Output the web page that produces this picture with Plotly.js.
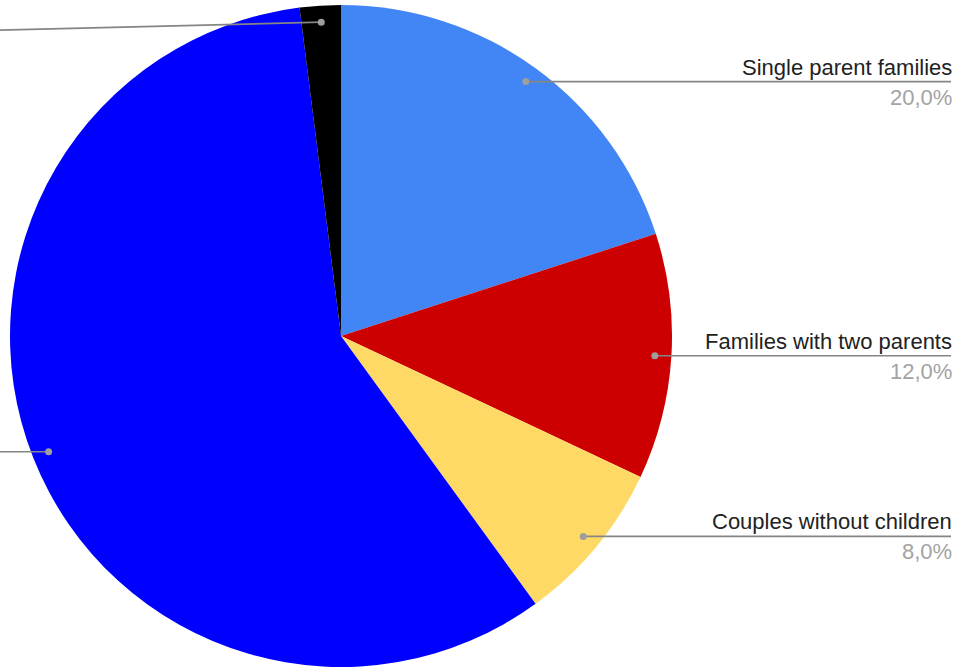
<!DOCTYPE html>
<html>
<head>
<meta charset="utf-8">
<script src="https://cdn.plot.ly/plotly-3.0.1.min.js"></script>
<style>html,body{margin:0;padding:0;background:#fff;}#chart{width:971px;height:668px;}</style>
</head>
<body>
<div id="chart"></div>
<script>
// Data
const categories = ["Single parent families", "Families with two parents", "Couples without children", "", ""];
const values = [20, 12, 8, 58, 2];
const colors = ["#4285f4", "#cc0000", "#ffd966", "#0000ff", "#000000"];

const W = 971, H = 668;
const cx = 341, cy = 336, R = 331;
const total = values.reduce((a, b) => a + b, 0);

const trace = {
  type: "pie",
  values: values,
  labels: categories.map((c, i) => c || ("slice" + i)),
  marker: { colors: colors, line: { width: 0 } },
  sort: false,
  direction: "clockwise",
  rotation: 0,
  textinfo: "none",
  hoverinfo: "none",
  showlegend: false,
  domain: { x: [(cx - R) / W, (cx + R) / W], y: [1 - (cy + R) / H, 1 - (cy - R) / H] }
};

const shapes = [];
const annotations = [];
const px = x => x / W;
const py = y => 1 - y / H;
let cum = 0;
values.forEach((v, i) => {
  const mid = (cum + v / 2) / total * 2 * Math.PI;
  cum += v;
  const dx = cx + 0.95 * R * Math.sin(mid);
  const dy = cy - 0.95 * R * Math.cos(mid);
  const right = Math.sin(mid) > 0;
  let ex, ey;
  if (right) { ex = 951; ey = dy; }
  else if (i === 4) { ex = 0; ey = dy + 8; }
  else { ex = 0; ey = dy; }
  shapes.push({ type: "line", xref: "paper", yref: "paper", x0: px(dx), y0: py(dy), x1: px(ex), y1: py(ey),
    line: { color: "#858585", width: 1.7 } });
  shapes.push({ type: "circle", xref: "paper", yref: "paper", xsizemode: "pixel", ysizemode: "pixel",
    xanchor: px(dx), yanchor: py(dy), x0: -3.5, x1: 3.5, y0: -3.5, y1: 3.5,
    fillcolor: "#9e9e9e", line: { width: 0 } });
  if (right && categories[i]) {
    annotations.push({ xref: "paper", yref: "paper", x: px(ex + 2), y: py(ey - 1), xanchor: "right", yanchor: "bottom",
      text: categories[i], showarrow: false, font: { family: "Liberation Sans, Arial, sans-serif", size: 22, color: "#222222" }, borderpad: 0 });
    annotations.push({ xref: "paper", yref: "paper", x: px(ex + 2), y: py(ey + 2), xanchor: "right", yanchor: "top",
      text: (v / total * 100).toFixed(1).replace(".", ",") + "%", showarrow: false,
      font: { family: "Liberation Sans, Arial, sans-serif", size: 22, color: "#a3a3a3" }, borderpad: 0 });
  }
});

const layout = {
  width: W, height: H,
  margin: { l: 0, r: 0, t: 0, b: 0 },
  paper_bgcolor: "#ffffff",
  shapes: shapes,
  annotations: annotations
};

Plotly.newPlot("chart", [trace], layout, { displayModeBar: false, staticPlot: true });
</script>
</body>
</html>
